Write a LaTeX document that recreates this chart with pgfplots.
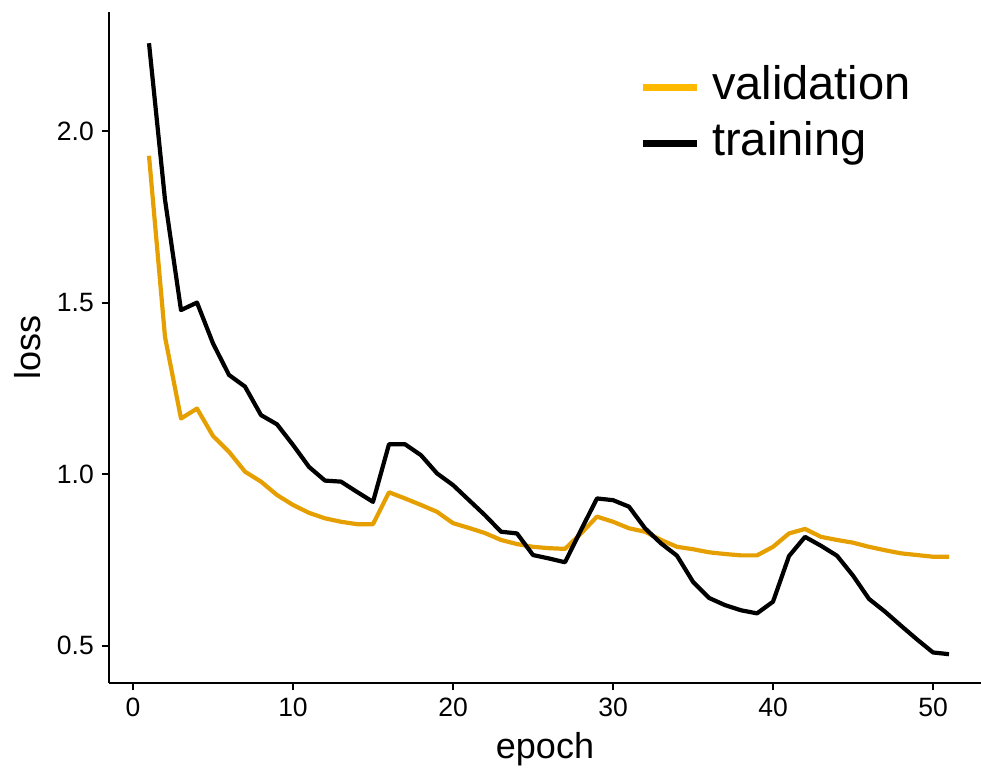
\documentclass[border=0pt]{standalone}
\usepackage{pgfplots}
\pgfplotsset{compat=1.18}
\usepackage{fontspec}
\setmainfont{Liberation Sans}
\definecolor{valcol}{HTML}{E69F00}
\definecolor{valkey}{HTML}{FFBA00}
\begin{document}
\begin{tikzpicture}[x=1pt,y=1pt]
\useasboundingbox (-109pt,-86pt) rectangle (872pt,683pt);
\begin{axis}[
  scale only axis, width=872pt, height=671pt,
  at={(0,0)}, anchor=south west,
  xmin=-1.5, xmax=53.0, ymin=0.391, ymax=2.347,
  axis x line*=bottom, axis y line*=left,
  axis line style={line width=2pt, -},
  xtick={0,10,20,30,40,50}, ytick={0.5,1.0,1.5,2.0},
  yticklabels={0.5,1.0,1.5,2.0},
  tick align=outside, major tick length=7pt,
  tick style={line width=2pt, black},
  /pgf/number format/assume math mode=true,
  ticklabel style={font=\fontsize{26.5}{30}\selectfont, text=black},
  xticklabel style={inner sep=0pt, anchor=north, yshift=-8pt},
  yticklabel style={inner sep=0pt, anchor=east, xshift=-8pt},
  xlabel={epoch}, ylabel={loss},
  label style={font=\fontsize{36}{40}\selectfont},
  xlabel style={at={(axis description cs:0.5,-0.1118)}, anchor=base, inner sep=0pt},
  ylabel style={at={(axis description cs:-0.0929,0.5)}, anchor=center, inner sep=0pt},
  legend style={at={(axis description cs:0.6043,0.932)}, anchor=north west, draw=none, fill=none,
    font=\fontsize{47}{54}\selectfont,
    nodes={inner sep=6pt, text height=34pt, text depth=10pt}, row sep=0pt,
    /tikz/every odd column/.append style={column sep=6pt}},
  legend cell align=left,
  legend image code/.code={\draw[#1, line width=7pt] (0pt,0pt) -- (54pt,0pt);},
]
\addplot[valcol, line width=4.2pt, line join=round, forget plot] coordinates {
(1,1.928)(2,1.40)(3,1.162)(4,1.191)(5,1.111)(6,1.065)(7,1.007)(8,0.978)(9,0.939)(10,0.910)
(11,0.887)(12,0.871)(13,0.861)(14,0.854)(15,0.854)(16,0.947)(17,0.929)(18,0.910)(19,0.890)(20,0.857)
(21,0.843)(22,0.828)(23,0.808)(24,0.796)(25,0.788)(26,0.784)(27,0.782)(28,0.827)(29,0.876)(30,0.861)
(31,0.842)(32,0.832)(33,0.808)(34,0.788)(35,0.781)(36,0.772)(37,0.767)(38,0.763)(39,0.763)(40,0.788)
(41,0.827)(42,0.840)(43,0.817)(44,0.808)(45,0.800)(46,0.788)(47,0.778)(48,0.769)(49,0.764)(50,0.759)
(51,0.759)};
\addplot[black, line width=4.2pt, line join=round, forget plot] coordinates {
(1,2.256)(2,1.80)(3,1.478)(4,1.50)(5,1.381)(6,1.289)(7,1.255)(8,1.172)(9,1.145)(10,1.085)
(11,1.021)(12,0.981)(13,0.978)(14,0.948)(15,0.919)(16,1.087)(17,1.087)(18,1.055)(19,1.002)(20,0.968)
(21,0.924)(22,0.880)(23,0.832)(24,0.827)(25,0.764)(26,0.754)(27,0.743)(28,0.837)(29,0.929)(30,0.924)
(31,0.905)(32,0.842)(33,0.798)(34,0.762)(35,0.686)(36,0.639)(37,0.618)(38,0.603)(39,0.594)(40,0.628)
(41,0.761)(42,0.817)(43,0.791)(44,0.762)(45,0.704)(46,0.636)(47,0.599)(48,0.558)(49,0.518)(50,0.480)
(51,0.475)};
\addlegendimage{valkey}
\addlegendentry{validation}
\addlegendimage{black}
\addlegendentry{training}
\end{axis}
\end{tikzpicture}
\end{document}
